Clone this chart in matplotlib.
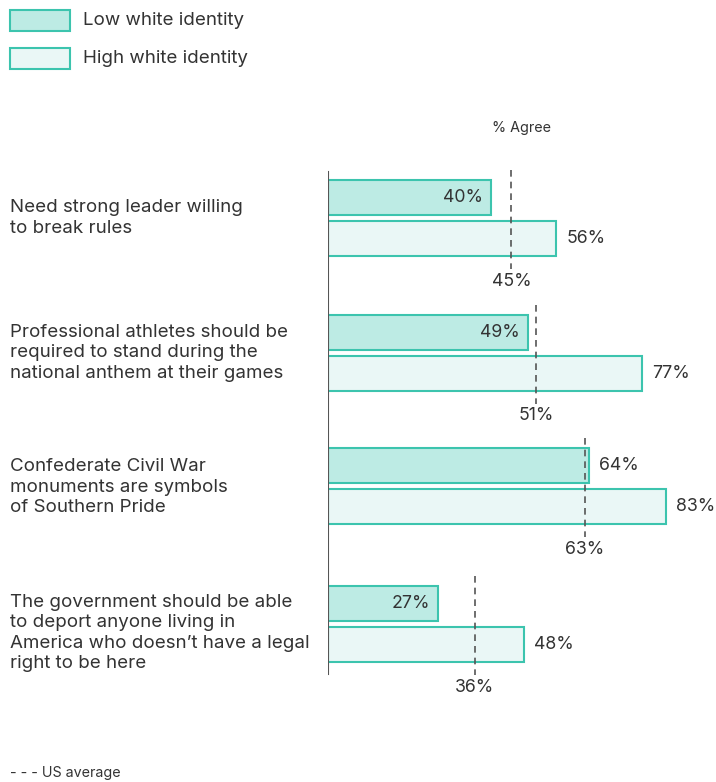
import matplotlib.pyplot as plt

plt.rcParams['font.family'] = ['Inter', 'DejaVu Sans']

questions = [
    'Need strong leader willing\nto break rules',
    'Professional athletes should be\nrequired to stand during the\nnational anthem at their games',
    'Confederate Civil War\nmonuments are symbols\nof Southern Pride',
    'The government should be able\nto deport anyone living in\nAmerica who doesn\u2019t have a legal\nright to be here',
]
low_identity = [40, 49, 64, 27]
high_identity = [56, 77, 83, 48]
us_average = [45, 51, 63, 36]

W, H = 716, 782
TEXT = '#333333'
EDGE = '#3cc4ae'
LOW_FILL = '#bdebe4'
HIGH_FILL = '#eaf7f6'
PX = 4.075          # pixels per percentage point
X0 = 328            # pixel x of the zero line
FS = 13.5
FS_VAL = 12.8

fig = plt.figure(figsize=(W / 100, H / 100), dpi=100)
ax_left = X0 / W
ax = fig.add_axes([ax_left, 82 / H, 1 - ax_left, (700 - 160) / H])
ax.set_xlim(0, (W - X0) / PX)
ax.set_ylim(700, 160)
ax.axis('off')

group_top = [180, 315, 448, 586]
label_shift = [0, 0, 1, 9]
bar_h = 35
gap = 6

for i, q in enumerate(questions):
    top = group_top[i]
    y_low = top + bar_h / 2
    y_high = top + bar_h + gap + bar_h / 2
    ax.barh(y_low, low_identity[i], height=bar_h, color=LOW_FILL,
            edgecolor=EDGE, linewidth=1.5)
    ax.barh(y_high, high_identity[i], height=bar_h, color=HIGH_FILL,
            edgecolor=EDGE, linewidth=1.5)

    # low bar label: inside unless the average line falls within the bar
    if low_identity[i] < us_average[i]:
        ax.annotate(f'{low_identity[i]}%', (low_identity[i], y_low),
                    xytext=(-8, 0), textcoords='offset pixels',
                    ha='right', va='center', fontsize=FS_VAL, color=TEXT)
    else:
        ax.annotate(f'{low_identity[i]}%', (low_identity[i], y_low),
                    xytext=(10, 0), textcoords='offset pixels',
                    ha='left', va='center', fontsize=FS_VAL, color=TEXT)
    ax.annotate(f'{high_identity[i]}%', (high_identity[i], y_high),
                xytext=(10, 0), textcoords='offset pixels',
                ha='left', va='center', fontsize=FS_VAL, color=TEXT)

    # US average dashed line
    y0, y1 = top - 10, top + 2 * bar_h + gap + 13
    ax.plot([us_average[i], us_average[i]], [y0, y1], color='#555555',
            linestyle=(0, (4, 3)), linewidth=1.2, zorder=3)
    ax.text(us_average[i], y1 + 12, f'{us_average[i]}%', ha='center',
            va='center', fontsize=FS_VAL, color=TEXT)

    # question label
    fig.text(10 / W, 1 - (top + bar_h + gap / 2 + label_shift[i]) / H, q,
             ha='left', va='center', fontsize=FS, color=TEXT,
             linespacing=1.25)

ax.plot([0, 0], [172, 674], color='#555555', linewidth=1.5, zorder=4)

ax.text(522 / PX - X0 / PX, 128, '% Agree', ha='center', va='center',
        fontsize=10.3, color=TEXT)

# legend
for y, fill, label in [(10, LOW_FILL, 'Low white identity'),
                       (48, HIGH_FILL, 'High white identity')]:
    fig.patches.append(plt.Rectangle((10 / W, 1 - (y + 21) / H), 60 / W,
                                     21 / H, transform=fig.transFigure,
                                     facecolor=fill, edgecolor=EDGE,
                                     linewidth=1.5))
    fig.text(83 / W, 1 - (y + 10.5) / H, label, ha='left', va='center',
             fontsize=FS, color=TEXT)

fig.text(10 / W, 1 - 773 / H, '- - - US average', ha='left', va='center',
         fontsize=10.3, color=TEXT)

fig.savefig('out.png', dpi=100)
